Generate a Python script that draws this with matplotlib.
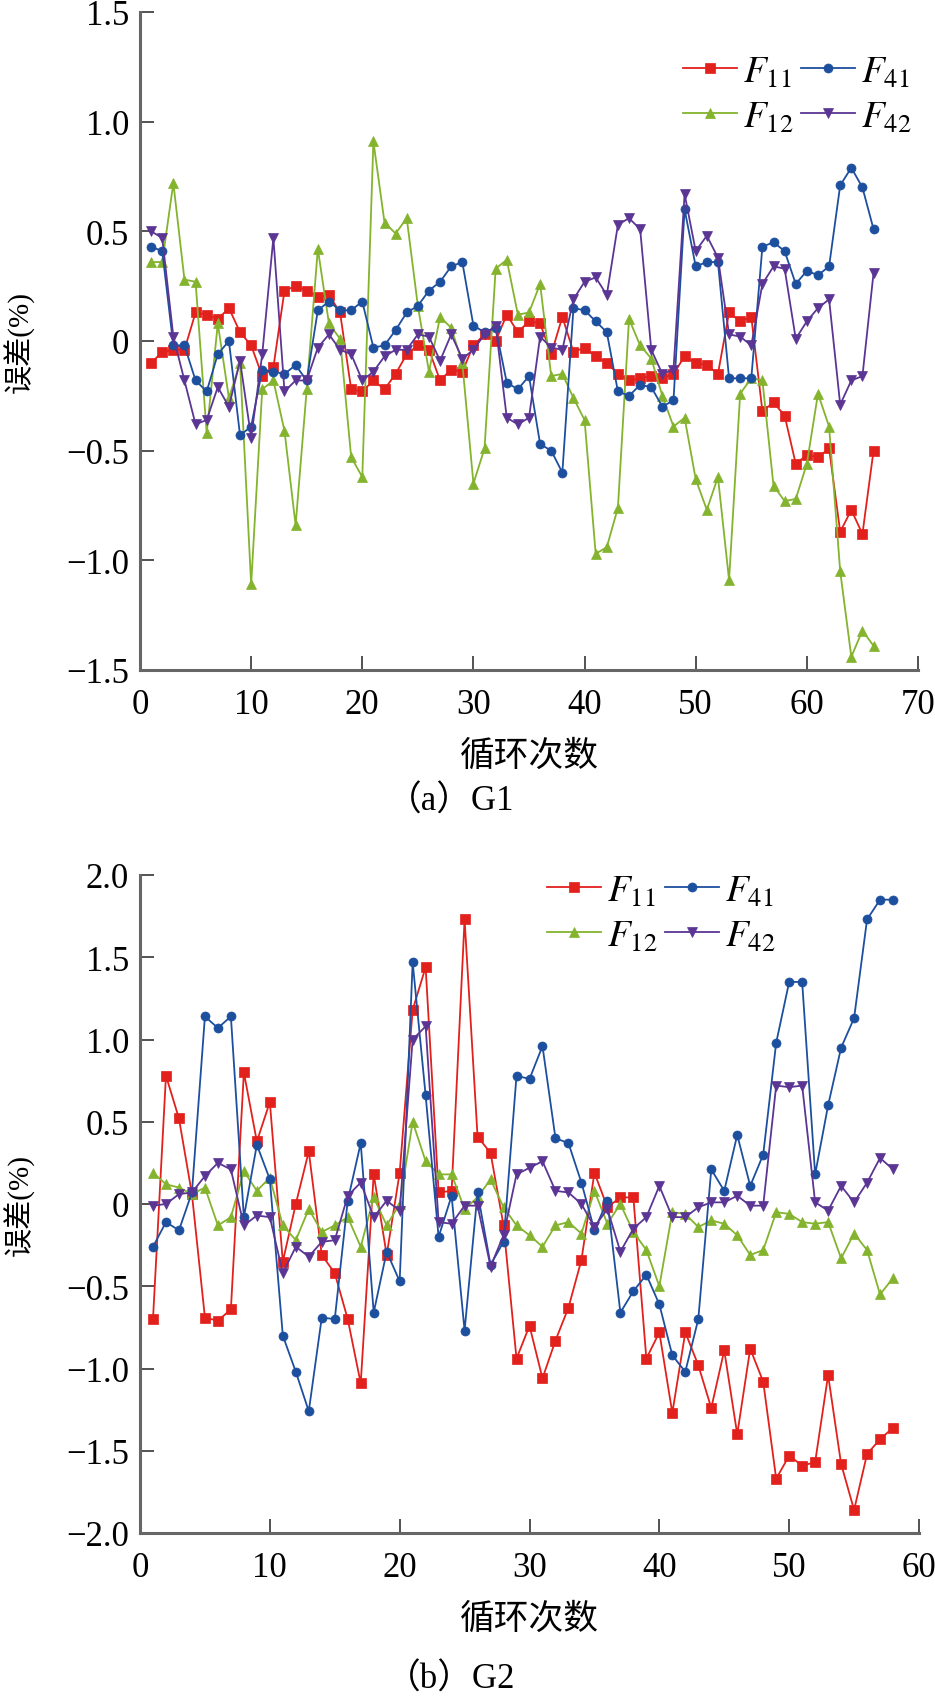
import matplotlib
matplotlib.use("Agg")
import matplotlib.pyplot as plt
import numpy as np

plt.rcParams['mathtext.fontset'] = 'stix'
SERIF = ['Liberation Serif', 'Noto Sans CJK SC', 'DejaVu Sans']
plt.rcParams['font.family'] = SERIF

# ---------------- data (a) G1 ----------------
cycles_a = list(range(1, 67))
F11_a = [-0.10, -0.05, -0.04, -0.04, 0.13, 0.12, 0.10, 0.15, 0.04, -0.02,
         -0.16, -0.12, 0.23, 0.25, 0.23, 0.20, 0.21, 0.13, -0.22, -0.23,
         -0.18, -0.22, -0.15, -0.06, -0.02, -0.04, -0.18, -0.13, -0.14, -0.02,
         0.03, 0.00, 0.12, 0.04, 0.09, 0.08, -0.06, 0.11, -0.05, -0.03,
         -0.07, -0.10, -0.15, -0.18, -0.17, -0.16, -0.17, -0.15, -0.07, -0.10,
         -0.11, -0.15, 0.13, 0.09, 0.11, -0.32, -0.28, -0.34, -0.56, -0.52,
         -0.53, -0.49, -0.87, -0.77, -0.88, -0.50]
F12_a = [0.36, 0.36, 0.72, 0.28, 0.27, -0.42, 0.08, -0.26, -0.10, -1.11,
         -0.22, -0.18, -0.41, -0.84, -0.22, 0.42, 0.08, 0.01, -0.53, -0.62,
         0.91, 0.54, 0.49, 0.56, 0.16, -0.14, 0.11, 0.06, -0.10, -0.65,
         -0.49, 0.33, 0.37, 0.12, 0.13, 0.26, -0.16, -0.15, -0.26, -0.36,
         -0.97, -0.94, -0.76, 0.10, -0.02, -0.08, -0.25, -0.39, -0.35, -0.63,
         -0.77, -0.62, -1.09, -0.24, -0.17, -0.18, -0.66, -0.73, -0.72, -0.56,
         -0.24, -0.39, -1.05, -1.44, -1.32, -1.39]
F41_a = [0.43, 0.41, -0.02, -0.02, -0.18, -0.23, -0.06, 0.00, -0.43, -0.39,
         -0.13, -0.14, -0.15, -0.11, -0.18, 0.14, 0.18, 0.14, 0.14, 0.18,
         -0.03, -0.02, 0.05, 0.13, 0.16, 0.23, 0.27, 0.34, 0.36, 0.07,
         0.04, 0.06, -0.19, -0.22, -0.16, -0.47, -0.50, -0.60, 0.15, 0.14,
         0.09, 0.04, -0.23, -0.25, -0.20, -0.21, -0.30, -0.27, 0.60, 0.34,
         0.36, 0.36, -0.17, -0.17, -0.17, 0.43, 0.45, 0.41, 0.26, 0.32,
         0.30, 0.34, 0.71, 0.79, 0.70, 0.51]
F42_a = [0.50, 0.47, 0.02, -0.18, -0.38, -0.36, -0.21, -0.30, -0.09, -0.44,
         -0.06, 0.47, -0.23, -0.18, -0.18, -0.03, 0.03, -0.04, -0.06, -0.18,
         -0.14, -0.07, -0.04, -0.04, 0.03, 0.02, -0.09, 0.03, -0.08, -0.04,
         0.03, 0.07, -0.35, -0.38, -0.35, 0.02, -0.03, -0.04, 0.19, 0.27,
         0.29, 0.21, 0.53, 0.56, 0.51, -0.04, -0.15, -0.13, 0.67, 0.41,
         0.48, 0.38, 0.03, 0.02, -0.02, 0.26, 0.34, 0.33, 0.01, 0.09,
         0.15, 0.19, -0.29, -0.18, -0.16, 0.31]

# ---------------- data (b) G2 ----------------
cycles_b = list(range(1, 59))
F11_b = [-0.70, 0.78, 0.52, 0.06, -0.69, -0.71, -0.64, 0.80, 0.38, 0.62,
         -0.35, 0.00, 0.32, -0.31, -0.42, -0.70, -1.09, 0.18, -0.31, 0.19,
         1.18, 1.44, 0.07, 0.08, 1.73, 0.41, 0.31, -0.13, -0.94, -0.74,
         -1.06, -0.83, -0.63, -0.34, 0.19, -0.02, 0.04, 0.04, -0.94, -0.78,
         -1.27, -0.78, -0.98, -1.24, -0.89, -1.40, -0.88, -1.08, -1.67, -1.53,
         -1.59, -1.57, -1.04, -1.58, -1.86, -1.52, -1.43, -1.36]
F12_b = [0.19, 0.12, 0.10, 0.06, 0.10, -0.13, -0.08, 0.20, 0.08, 0.16,
         -0.13, -0.22, -0.03, -0.17, -0.13, -0.08, -0.26, 0.04, -0.13, 0.00,
         0.50, 0.26, 0.18, 0.18, -0.03, 0.04, 0.15, -0.02, -0.13, -0.19,
         -0.26, -0.13, -0.11, -0.18, 0.08, -0.12, 0.00, -0.17, -0.28, -0.50,
         -0.05, -0.06, -0.14, -0.10, -0.12, -0.19, -0.31, -0.28, -0.05, -0.06,
         -0.11, -0.12, -0.11, -0.33, -0.18, -0.28, -0.55, -0.45]
F41_b = [-0.26, -0.11, -0.16, 0.07, 1.14, 1.07, 1.14, -0.08, 0.36, 0.15,
         -0.80, -1.02, -1.26, -0.69, -0.70, 0.02, 0.37, -0.66, -0.29, -0.47,
         1.47, 0.66, -0.20, 0.05, -0.77, 0.07, -0.37, -0.23, 0.78, 0.76,
         0.96, 0.40, 0.37, 0.13, -0.16, 0.02, -0.66, -0.53, -0.43, -0.61,
         -0.92, -1.02, -0.70, 0.21, 0.08, 0.42, 0.11, 0.30, 0.98, 1.35,
         1.35, 0.18, 0.60, 0.95, 1.13, 1.73, 1.85, 1.85]
F42_b = [-0.01, 0.00, 0.06, 0.07, 0.17, 0.25, 0.21, -0.13, -0.07, -0.08,
         -0.42, -0.26, -0.32, -0.23, -0.22, 0.05, 0.13, -0.08, 0.02, -0.04,
         1.00, 1.08, -0.11, -0.12, -0.01, -0.01, -0.38, -0.19, 0.18, 0.22,
         0.26, 0.08, 0.07, 0.00, -0.14, -0.03, -0.29, -0.15, -0.08, 0.11,
         -0.08, -0.08, -0.02, 0.01, 0.01, 0.05, -0.01, -0.01, 0.72, 0.71,
         0.72, 0.01, -0.04, 0.11, 0.01, 0.13, 0.28, 0.21]

labels = [r'$F_{11}$', r'$F_{12}$', r'$F_{41}$', r'$F_{42}$']
colors = ['#e2201c', '#84b32e', '#1d4f9f', '#5b3594']
markers = ['s', '^', 'o', 'v']

W, H = 935, 1699
fig = plt.figure(figsize=(W / 100, H / 100), dpi=100)

def px_axes(l, t, r, b):
    return fig.add_axes([l / W, 1 - b / H, (r - l) / W, (b - t) / H])

ax1 = px_axes(140, 13, 918, 671)
ax2 = px_axes(140, 876, 919, 1534)

def draw(ax, x, series, xmax, ylim, yticks, ylabels):
    for s, c, m, lab in zip(series, colors, markers, labels):
        ax.plot(x, s, color=c, marker=m, markersize=6.5, linewidth=1.3,
                markeredgewidth=0.5, label=lab)
    ax.set_xlim(0, xmax)
    ax.set_ylim(*ylim)
    ax.set_xticks(range(0, xmax + 1, 10))
    ax.set_yticks(yticks)
    ax.set_yticklabels(ylabels)
    for sp in ['top', 'right']:
        ax.spines[sp].set_visible(False)
    for sp in ['left', 'bottom']:
        ax.spines[sp].set_color('#666666')
        ax.spines[sp].set_linewidth(2.2)
    ax.tick_params(axis='both', direction='in', length=10, width=1.3,
                   color='#444444', labelsize=25)
    ax.tick_params(axis='x', pad=13)
    ax.tick_params(axis='y', pad=8)
    ax.set_ylabel('误差(%)', fontsize=21, family=['Liberation Serif', 'Noto Sans CJK SC'])
    ax.yaxis.set_label_coords((35 - 140) / 778, 0.5)
    ax.set_xlabel('循环次数', fontsize=25, family=['Noto Sans CJK SC'], labelpad=12)

draw(ax1, cycles_a, [F11_a, F12_a, F41_a, F42_a], 70, (-1.5, 1.5),
     [-1.5, -1.0, -0.5, 0, 0.5, 1.0, 1.5],
     ['−1.5', '−1.0', '−0.5', '0', '0.5', '1.0', '1.5'])
draw(ax2, cycles_b, [F11_b, F12_b, F41_b, F42_b], 60, (-2.0, 2.0),
     [-2.0, -1.5, -1.0, -0.5, 0, 0.5, 1.0, 1.5, 2.0],
     ['−2.0', '−1.5', '−1.0', '−0.5', '0', '0.5', '1.0', '1.5', '2.0'])

leg_kw = dict(ncol=2, frameon=False, fontsize=27, handlelength=1.45,
              handletextpad=0.15, columnspacing=0.2, labelspacing=0.28,
              borderpad=0, borderaxespad=0, numpoints=1, loc='upper left')
ax1.legend(bbox_to_anchor=(683 / W, 1 - 56 / H), bbox_transform=fig.transFigure, **leg_kw)
ax2.legend(bbox_to_anchor=(547 / W, 1 - 875 / H), bbox_transform=fig.transFigure, **leg_kw)

fig.text(451 / W, 1 - 802 / H, '（a）G1', ha='center', va='center', fontsize=25,
         family=['Liberation Serif', 'Noto Sans CJK SC'])
fig.text(451 / W, 1 - 1680 / H, '（b）G2', ha='center', va='center', fontsize=25,
         family=['Liberation Serif', 'Noto Sans CJK SC'])

fig.savefig('out.png', dpi=100)
